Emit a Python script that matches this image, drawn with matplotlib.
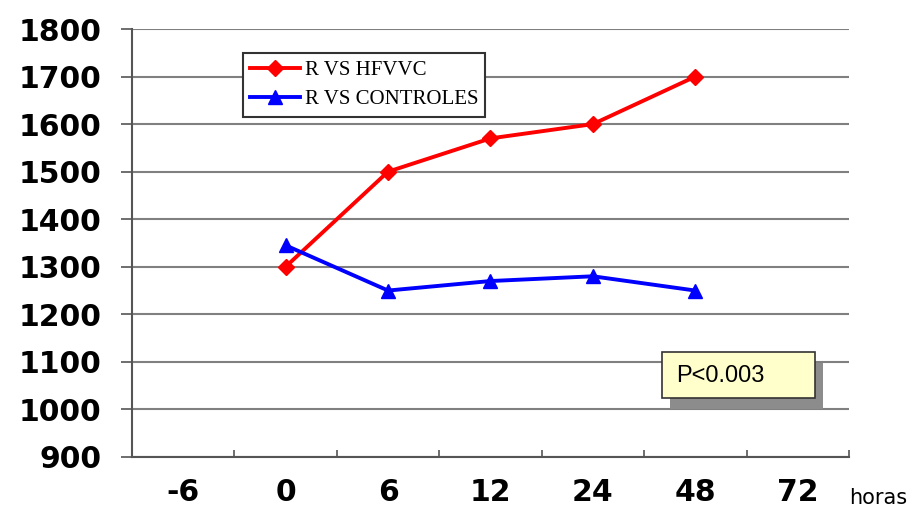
import numpy as np
import matplotlib
matplotlib.use("Agg")
import matplotlib.pyplot as plt
import matplotlib.patheffects as pe
from matplotlib.patches import Rectangle

# data
categories = ["-6", "0", "6", "12", "24", "48", "72"]
hours_idx = [1, 2, 3, 4, 5]          # positions of 0, 6, 12, 24, 48
rvs_hfvvc = [1300, 1500, 1570, 1600, 1700]
rvs_controles = [1345, 1250, 1270, 1280, 1250]
y_ticks = np.arange(900, 1801, 100)

fig = plt.figure(figsize=(9.19, 5.2), dpi=100)
ax = fig.add_axes([0.1436, 0.1212, 0.7802, 0.8230])

# horizontal gridlines
for v in y_ticks:
    ax.axhline(v, color="#808080", linewidth=1.5, zorder=0)

ax.plot(hours_idx, rvs_hfvvc, color="#ff0000", linewidth=2.8, marker="D",
        markersize=8, label="R VS HFVVC", zorder=3)
ax.plot(hours_idx, rvs_controles, color="#0000ff", linewidth=2.8, marker="^",
        markersize=10, label="R VS CONTROLES", zorder=3)

ax.set_xlim(-0.5, len(categories) - 0.5)
ax.set_ylim(900, 1800)
ax.set_yticks(y_ticks)
ax.set_yticklabels([str(v) for v in y_ticks], fontsize=21.5, fontweight="bold",
                   family="DejaVu Sans")
ax.set_xticks(range(len(categories)))
ax.set_xticklabels(categories, fontsize=21.5, fontweight="bold", family="DejaVu Sans")
ax.set_xticks(np.arange(-0.5, len(categories)), minor=True)

ax.tick_params(axis="y", direction="out", length=8, width=1.2, pad=14, color="#555555")
ax.tick_params(axis="x", which="major", length=0, pad=15)
ax.tick_params(axis="x", which="minor", direction="in", length=5, width=1.2, color="#555555")

for s in ["top", "right"]:
    ax.spines[s].set_visible(False)
for s in ["left", "bottom"]:
    ax.spines[s].set_color("#555555")
    ax.spines[s].set_linewidth(1.5)

ax.text(1.0, -0.095, "horas", transform=ax.transAxes, fontsize=15,
        ha="left", va="center", family="DejaVu Sans")

leg = ax.legend(loc="upper left", bbox_to_anchor=(0.155, 0.943), frameon=True,
                fancybox=False, framealpha=1, edgecolor="#333333",
                prop={"family": "Liberation Serif", "size": 15},
                handlelength=2.4, borderpad=0.35, labelspacing=0.45, handletextpad=0.2,
                borderaxespad=0)
leg.get_frame().set_linewidth(1.5)
leg.set_zorder(6)

# p-value box with drop shadow
box = Rectangle((0.739, 0.138), 0.2135, 0.107, transform=ax.transAxes,
                facecolor="#ffffcc", edgecolor="#333333", linewidth=1.2, zorder=5)
box.set_path_effects([pe.SimplePatchShadow(offset=(6, -8), shadow_rgbFace="#8c8c8c", alpha=1),
                      pe.Normal()])
ax.add_patch(box)
ax.text(0.759, 0.19, "P<0.003", transform=ax.transAxes, fontsize=17,
        family="Liberation Sans", ha="left", va="center", zorder=6)

fig.savefig("out.png", dpi=100)
